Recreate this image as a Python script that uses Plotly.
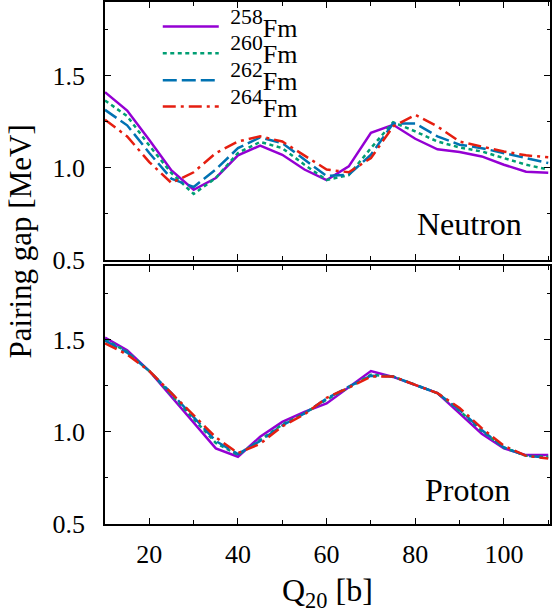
import plotly.graph_objects as go

q20 = [10, 15, 20, 25, 30, 35, 40, 45, 50, 55, 60, 65, 70, 75, 80, 85, 90, 95, 100, 105, 110]

mass_numbers = ["258", "260", "262", "264"]

neutron_258 = [1.41, 1.31, 1.15, 0.985, 0.88, 0.944, 1.067, 1.12, 1.07, 0.99, 0.933, 1.007, 1.19, 1.233, 1.157, 1.10, 1.085, 1.061, 1.016, 0.978, 0.973]
neutron_260 = [1.365, 1.28, 1.12, 0.97, 0.857, 0.944, 1.08, 1.14, 1.106, 1.016, 0.933, 0.96, 1.106, 1.247, 1.197, 1.142, 1.11, 1.088, 1.052, 1.016, 0.99]
neutron_262 = [1.314, 1.23, 1.08, 0.94, 0.895, 0.99, 1.106, 1.164, 1.133, 1.043, 0.955, 0.962, 1.07, 1.24, 1.24, 1.17, 1.125, 1.106, 1.079, 1.056, 1.025]
neutron_264 = [1.26, 1.17, 1.03, 0.917, 0.975, 1.079, 1.142, 1.17, 1.142, 1.067, 0.99, 0.975, 1.052, 1.224, 1.287, 1.224, 1.142, 1.115, 1.088, 1.067, 1.056]

proton_258 = [1.511, 1.443, 1.33, 1.19, 1.045, 0.91, 0.865, 0.973, 1.054, 1.108, 1.154, 1.244, 1.33, 1.298, 1.253, 1.211, 1.10, 0.99, 0.91, 0.874, 0.874]
proton_260 = [1.50, 1.435, 1.33, 1.20, 1.07, 0.94, 0.875, 0.955, 1.04, 1.10, 1.175, 1.24, 1.31, 1.30, 1.255, 1.21, 1.115, 1.005, 0.915, 0.87, 0.865]
proton_262 = [1.495, 1.43, 1.33, 1.21, 1.08, 0.95, 0.88, 0.95, 1.035, 1.10, 1.18, 1.245, 1.305, 1.30, 1.255, 1.21, 1.12, 1.01, 0.915, 0.87, 0.86]
proton_264 = [1.48, 1.42, 1.33, 1.21, 1.09, 0.97, 0.885, 0.935, 1.03, 1.095, 1.185, 1.24, 1.30, 1.30, 1.255, 1.21, 1.13, 1.02, 0.925, 0.87, 0.855]

neutron = [neutron_258, neutron_260, neutron_262, neutron_264]
proton = [proton_258, proton_260, proton_262, proton_264]

colors = ["#9400D3", "#009E73", "#0072B2", "#E51E10"]
dashes = ["solid", "4px,3.5px", "14px,5px", "13px,5px,3px,5px"]

FONT = "Liberation Serif"
H = 524.0   # plot-area height in px
W = 447.0   # plot-area width in px
L = 105.0

legend_keys = ["legend", "legend2", "legend3", "legend4"]
legend_top_y = [1.0, 28.0, 55.0, 81.5]

def legend_name(a):
    return "&nbsp;<span style='font-size:31px'><sup>" + a + "</sup></span>Fm"

fig = go.Figure()
for i in range(4):
    fig.add_trace(go.Scatter(x=q20, y=neutron[i], mode="lines", name=legend_name(mass_numbers[i]),
                             line=dict(color=colors[i], width=2.5, dash=dashes[i]),
                             xaxis="x", yaxis="y", showlegend=True, legend=legend_keys[i]))
for i in range(4):
    fig.add_trace(go.Scatter(x=q20, y=proton[i], mode="lines", name=legend_name(mass_numbers[i]),
                             line=dict(color=colors[i], width=2.5, dash=dashes[i]),
                             xaxis="x2", yaxis="y2", showlegend=False))

axis_common = dict(showline=True, linecolor="black", linewidth=1.5, mirror="allticks",
                   ticks="inside", ticklen=6, tickwidth=1, tickcolor="black",
                   showgrid=False, zeroline=False,
                   tickfont=dict(family=FONT, size=26, color="black"))

layout_legends = {}
for i, key in enumerate(legend_keys):
    layout_legends[key] = dict(x=(158 - L) / W, y=(H - legend_top_y[i]) / H,
                               xanchor="left", yanchor="top",
                               bgcolor="rgba(0,0,0,0)", borderwidth=0, itemwidth=56,
                               font=dict(family=FONT, size=26, color="black"))

fig.update_layout(
    width=552, height=616,
    margin=dict(l=int(L), r=0, t=0, b=92),
    paper_bgcolor="white", plot_bgcolor="white",
    font=dict(family=FONT, color="black"),
    xaxis=dict(domain=[0, 1], range=[10, 110.4], anchor="y", dtick=20, tick0=0,
               showticklabels=False,
               minor=dict(dtick=10, tick0=0, ticks="inside", ticklen=4, tickcolor="black"),
               **axis_common),
    yaxis=dict(domain=[(H - 258.7) / H, 1], range=[0.5, 1.9], anchor="x",
               tickvals=[0.5, 1.0, 1.5], ticktext=["0.5", "1.0", "1.5"], ticklabelstandoff=13,
               minor=dict(tickvals=[0.75, 1.25, 1.75], ticks="inside", ticklen=3, tickcolor="black"),
               **axis_common),
    xaxis2=dict(domain=[0, 1], range=[10, 110.4], anchor="y2", dtick=20, tick0=0,
                ticklabelstandoff=6,
                minor=dict(dtick=10, tick0=0, ticks="inside", ticklen=4, tickcolor="black"),
                **axis_common),
    yaxis2=dict(domain=[0, (H - 265) / H], range=[0.5, 1.9], anchor="x2",
                tickvals=[0.5, 1.0, 1.5], ticktext=["0.5", "1.0", "1.5"], ticklabelstandoff=13,
                minor=dict(tickvals=[0.75, 1.25, 1.75], ticks="inside", ticklen=3, tickcolor="black"),
                **axis_common),
    showlegend=True,
    **layout_legends,
)

fig.add_annotation(text="Neutron", xref="paper", yref="paper",
                   x=(471 - L) / W, y=(H - 223) / H, showarrow=False,
                   xanchor="center", yanchor="middle",
                   font=dict(family=FONT, size=32, color="black"))
fig.add_annotation(text="Proton", xref="paper", yref="paper",
                   x=(469 - L) / W, y=(H - 490) / H, showarrow=False,
                   xanchor="center", yanchor="middle",
                   font=dict(family=FONT, size=32, color="black"))
fig.add_annotation(text="Pairing gap [MeV]", xref="paper", yref="paper",
                   x=(20 - L) / W, y=(H - 240) / H, showarrow=False, textangle=-90,
                   xanchor="center", yanchor="middle",
                   font=dict(family=FONT, size=31, color="black"))
fig.add_annotation(text="Q<sub>20</sub> [b]", xref="paper", yref="paper",
                   x=(328 - L) / W, y=(H - 593) / H, showarrow=False,
                   xanchor="center", yanchor="middle",
                   font=dict(family=FONT, size=32, color="black"))

fig.write_html("out.html", config={"displayModeBar": False},
               post_script="document.body.style.margin='0';document.body.style.overflow='hidden';")
